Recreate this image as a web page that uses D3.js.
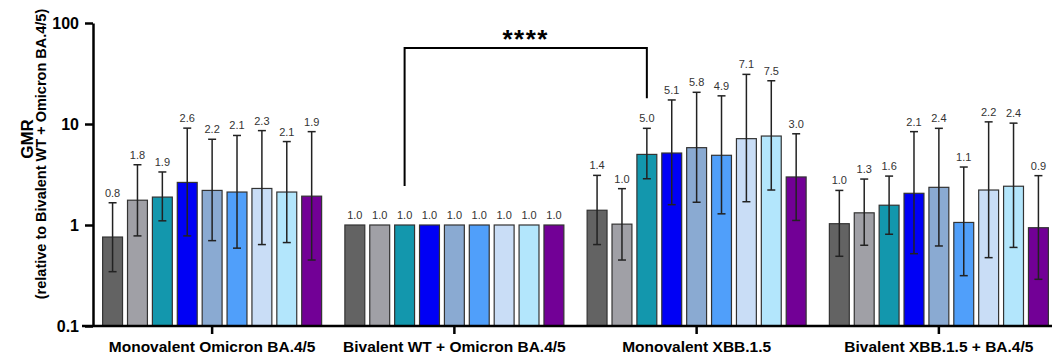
<!DOCTYPE html>
<html>
<head>
<meta charset="utf-8">
<script src="https://cdn.jsdelivr.net/npm/d3@7"></script>
<style>
  body { margin: 0; background: #fff; }
  svg { display: block; font-family: Arial, 'Liberation Sans', Helvetica, sans-serif; }
</style>
</head>
<body>
<svg id="gmrChart"></svg>
<script>
// vaccine groups on the x axis
const groups = ['Monovalent Omicron BA.4/5', 'Bivalent WT + Omicron BA.4/5', 'Monovalent XBB.1.5', 'Bivalent XBB.1.5 + BA.4/5']
// nine variant series per group (no legend in the figure)
const variants = ['V1', 'V2', 'V3', 'V4', 'V5', 'V6', 'V7', 'V8', 'V9']
const variantColors = ['#636363', '#a0a0a6', '#1397ad', '#0000f5', '#8aaad2', '#509ffa', '#c9ddf6', '#b3e6fc', '#720096']

// GMR values (bar heights)
const gmrMonoBA45 = [0.76, 1.76, 1.89, 2.64, 2.2, 2.12, 2.3, 2.12, 1.93]
const gmrBivBA45 = [1, 1, 1, 1, 1, 1, 1, 1, 1]
const gmrMonoXBB = [1.4, 1.02, 5.0, 5.16, 5.83, 4.9, 7.16, 7.6, 2.99]
const gmrBivXBB = [1.03, 1.32, 1.57, 2.06, 2.36, 1.06, 2.22, 2.42, 0.94]

// 95% CI upper / lower
const ciHighMonoBA45 = [1.66, 3.95, 3.35, 9.1, 7.06, 7.7, 8.6, 6.7, 8.4]
const ciLowMonoBA45 = [0.345, 0.78, 1.1, 0.78, 0.7, 0.59, 0.64, 0.67, 0.45]
const ciHighMonoXBB = [3.1, 2.29, 9.06, 17.3, 20.6, 19.0, 31, 26.8, 8.0]
const ciLowMonoXBB = [0.64, 0.45, 2.87, 1.59, 1.68, 1.29, 1.7, 2.22, 1.11]
const ciHighBivXBB = [2.2, 2.85, 3.05, 8.4, 9.06, 3.75, 10.5, 10.2, 3.08]
const ciLowBivXBB = [0.49, 0.63, 0.81, 0.52, 0.62, 0.315, 0.475, 0.6, 0.29]

// value labels printed over the bars
const labelsMonoBA45 = ['0.8', '1.8', '1.9', '2.6', '2.2', '2.1', '2.3', '2.1', '1.9']
const labelsBivBA45 = ['1.0', '1.0', '1.0', '1.0', '1.0', '1.0', '1.0', '1.0', '1.0']
const labelsMonoXBB = ['1.4', '1.0', '5.0', '5.1', '5.8', '4.9', '7.1', '7.5', '3.0']
const labelsBivXBB = ['1.0', '1.3', '1.6', '2.1', '2.4', '1.1', '2.2', '2.4', '0.9']

const yTicks = [0.1, 1, 10, 100]
const yTickLabels = ['0.1', '1', '10', '100']

const yTitle = 'GMR'
const ySubtitle = '(relative to Bivalent WT + Omicron BA.4/5)'
const sigText = '****'
// comparison: group index, variant index
const sigFrom = [1, 2]
const sigTo = [2, 2]

renderChart()

function renderChart () {
  const width = 1052
  const height = 357
  const svg = d3.select('#gmrChart').attr('width', width).attr('height', height)

  const values = [gmrMonoBA45, gmrBivBA45, gmrMonoXBB, gmrBivXBB]
  const highs = [ciHighMonoBA45, null, ciHighMonoXBB, ciHighBivXBB]
  const lows = [ciLowMonoBA45, null, ciLowMonoXBB, ciLowBivXBB]
  const labels = [labelsMonoBA45, labelsBivBA45, labelsMonoXBB, labelsBivXBB]

  const data = groups.flatMap((g, gi) => variants.map((v, i) => ({
    group: g,
    variant: v,
    color: variantColors[i],
    value: values[gi][i],
    hi: highs[gi] ? highs[gi][i] : null,
    lo: lows[gi] ? lows[gi][i] : null,
    label: labels[gi][i]
  })))

  const y = d3.scaleLog()
    .domain([0.1, 100])
    .range([326, 23])

  const x = d3.scaleBand()
    .domain(groups)
    .range([91, 1060])
    .padding(0)

  const inner = d3.scaleBand()
    .domain(variants)
    .range([-109.5, 109.5])
    .paddingInner(0.2)

  const cx = d => x(d.group) + x.bandwidth() / 2 + inner(d.variant) + inner.bandwidth() / 2

  // bars
  svg.append('g')
    .selectAll('rect')
    .data(data)
    .enter().append('rect')
    .attr('x', d => cx(d) - inner.bandwidth() / 2)
    .attr('y', d => y(d.value))
    .attr('width', inner.bandwidth())
    .attr('height', d => y(0.1) - y(d.value))
    .attr('fill', d => d.color)
    .attr('stroke', '#333')
    .attr('stroke-width', 1.2)

  // error bars
  const withErr = data.filter(d => d.hi !== null)
  const err = svg.append('g')
    .attr('stroke', '#222')
    .attr('stroke-width', 1.5)

  err.selectAll('line.whisker')
    .data(withErr)
    .enter().append('line')
    .attr('class', 'whisker')
    .attr('x1', cx)
    .attr('x2', cx)
    .attr('y1', d => y(d.lo))
    .attr('y2', d => y(d.hi))

  err.selectAll('line.capHi')
    .data(withErr)
    .enter().append('line')
    .attr('class', 'capHi')
    .attr('x1', d => cx(d) - 4)
    .attr('x2', d => cx(d) + 4)
    .attr('y1', d => y(d.hi))
    .attr('y2', d => y(d.hi))

  err.selectAll('line.capLo')
    .data(withErr)
    .enter().append('line')
    .attr('class', 'capLo')
    .attr('x1', d => cx(d) - 4)
    .attr('x2', d => cx(d) + 4)
    .attr('y1', d => y(d.lo))
    .attr('y2', d => y(d.lo))

  // value labels
  svg.append('g')
    .selectAll('text')
    .data(data)
    .enter().append('text')
    .attr('x', cx)
    .attr('y', d => y(d.hi !== null ? d.hi : d.value) - 6)
    .attr('text-anchor', 'middle')
    .attr('font-size', 11)
    .attr('fill', '#333')
    .text(d => d.label)

  // Y axis
  const yAxis = svg.append('g')
    .attr('transform', 'translate(93,0)')
    .call(d3.axisLeft(y)
      .tickValues(yTicks)
      .tickFormat((d, i) => yTickLabels[i])
      .tickSize(8)
      .tickSizeOuter(0)
      .tickPadding(6))
    .attr('font-family', null)
    .attr('font-size', null)
  yAxis.select('.domain').attr('stroke-width', 2.5)
  yAxis.selectAll('.tick line').attr('stroke-width', 2.5)
  yAxis.selectAll('.tick text')
    .attr('font-size', 16)
    .attr('font-weight', 'bold')
    .attr('fill', '#000')

  // X axis
  const xAxis = svg.append('g')
    .attr('transform', 'translate(0,326)')
    .call(d3.axisBottom(x).tickSize(8).tickSizeOuter(0).tickPadding(7))
    .attr('font-family', null)
    .attr('font-size', null)
  xAxis.select('.domain').remove()
  xAxis.append('line')
    .attr('x1', 82)
    .attr('x2', width)
    .attr('stroke', '#000')
    .attr('stroke-width', 2.5)
  xAxis.selectAll('.tick line').attr('stroke-width', 2.5)
  xAxis.selectAll('.tick text')
    .attr('font-size', 15.5)
    .attr('font-weight', 'bold')
    .attr('fill', '#000')

  // Y titles
  svg.append('text')
    .attr('transform', 'translate(33,139) rotate(-90)')
    .attr('text-anchor', 'middle')
    .attr('font-size', 17)
    .attr('font-weight', 'bold')
    .text(yTitle)

  svg.append('text')
    .attr('transform', 'translate(46,154) rotate(-90)')
    .attr('text-anchor', 'middle')
    .attr('font-size', 14.5)
    .attr('font-weight', 'bold')
    .text(ySubtitle)

  // significance bracket
  const fromD = data[sigFrom[0] * variants.length + sigFrom[1]]
  const toD = data[sigTo[0] * variants.length + sigTo[1]]
  const xA = cx(fromD)
  const xB = cx(toD)
  const topY = y(100) + 25
  const yA = y(fromD.hi !== null ? fromD.hi : fromD.value) - 39
  const yB = y(toD.hi !== null ? toD.hi : toD.value) - 30

  svg.append('path')
    .attr('d', `M${xA},${yA}V${topY}H${xB}V${yB}`)
    .attr('fill', 'none')
    .attr('stroke', '#000')
    .attr('stroke-width', 2)

  svg.append('text')
    .attr('x', (xA + xB) / 2)
    .attr('y', topY)
    .attr('text-anchor', 'middle')
    .attr('font-size', 26)
    .attr('font-weight', 'bold')
    .attr('letter-spacing', 1.5)
    .text(sigText)
}
</script>
</body>
</html>
